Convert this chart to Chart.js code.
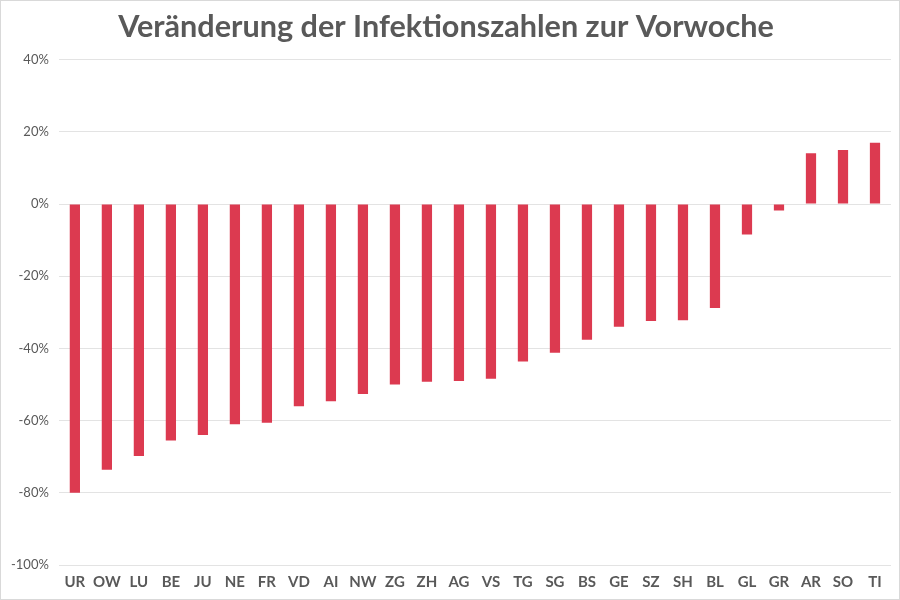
<!DOCTYPE html>
<html>
<head>
<meta charset="utf-8">
<script src="https://cdn.jsdelivr.net/npm/chart.js@4/dist/chart.umd.min.js"></script>
<style>
  html, body { margin: 0; padding: 0; background: #fff; }
  #wrap { width: 898px; height: 598px; border: 1px solid #d9d9d9; }
</style>
</head>
<body>
<div id="wrap"><canvas id="chart" width="898" height="598"></canvas></div>
<script>
const cantons = ['UR', 'OW', 'LU', 'BE', 'JU', 'NE', 'FR', 'VD', 'AI', 'NW', 'ZG', 'ZH', 'AG',
  'VS', 'TG', 'SG', 'BS', 'GE', 'SZ', 'SH', 'BL', 'GL', 'GR', 'AR', 'SO', 'TI'];
const changePct = [-80, -73.6, -69.8, -65.5, -64, -61, -60.6, -56, -54.6, -52.6, -50, -49.2, -49,
  -48.4, -43.6, -41.2, -37.6, -34, -32.4, -32.2, -28.8, -8.4, -1.8, 14.1, 15, 17];
const yTicks = [40, 20, 0, -20, -40, -60, -80, -100];

const grey = '#595959';

new Chart(document.getElementById('chart'), {
  type: 'bar',
  data: {
    labels: cantons,
    datasets: [{
      label: 'Veränderung',
      data: changePct,
      backgroundColor: '#dc3a50',
      barPercentage: 0.32,
      categoryPercentage: 1
    }]
  },
  options: {
    responsive: false,
    animation: false,
    layout: { padding: { left: 0, right: 8, top: 0, bottom: 0 } },
    plugins: {
      legend: { display: false },
      tooltip: { enabled: false },
      title: {
        display: true,
        text: 'Veränderung der Infektionszahlen zur Vorwoche',
        color: grey,
        font: { family: 'Lato', size: 30.6, weight: 'bold' },
        padding: { top: 8, bottom: 14 }
      }
    },
    scales: {
      y: {
        min: -100,
        max: 40,
        afterBuildTicks: axis => { axis.ticks = yTicks.map(v => ({ value: v })); },
        ticks: {
          color: grey,
          font: { family: 'Lato', size: 13 },
          padding: 10,
          callback: v => v + '%'
        },
        grid: { color: '#e3e3e3', drawTicks: false },
        border: { display: false }
      },
      x: {
        ticks: {
          color: grey,
          font: { family: 'Lato', size: 15, weight: 'bold' },
          maxRotation: 0,
          autoSkip: false,
          padding: 8
        },
        grid: { display: false, drawTicks: false },
        border: { display: false }
      }
    }
  }
});
</script>
</body>
</html>
